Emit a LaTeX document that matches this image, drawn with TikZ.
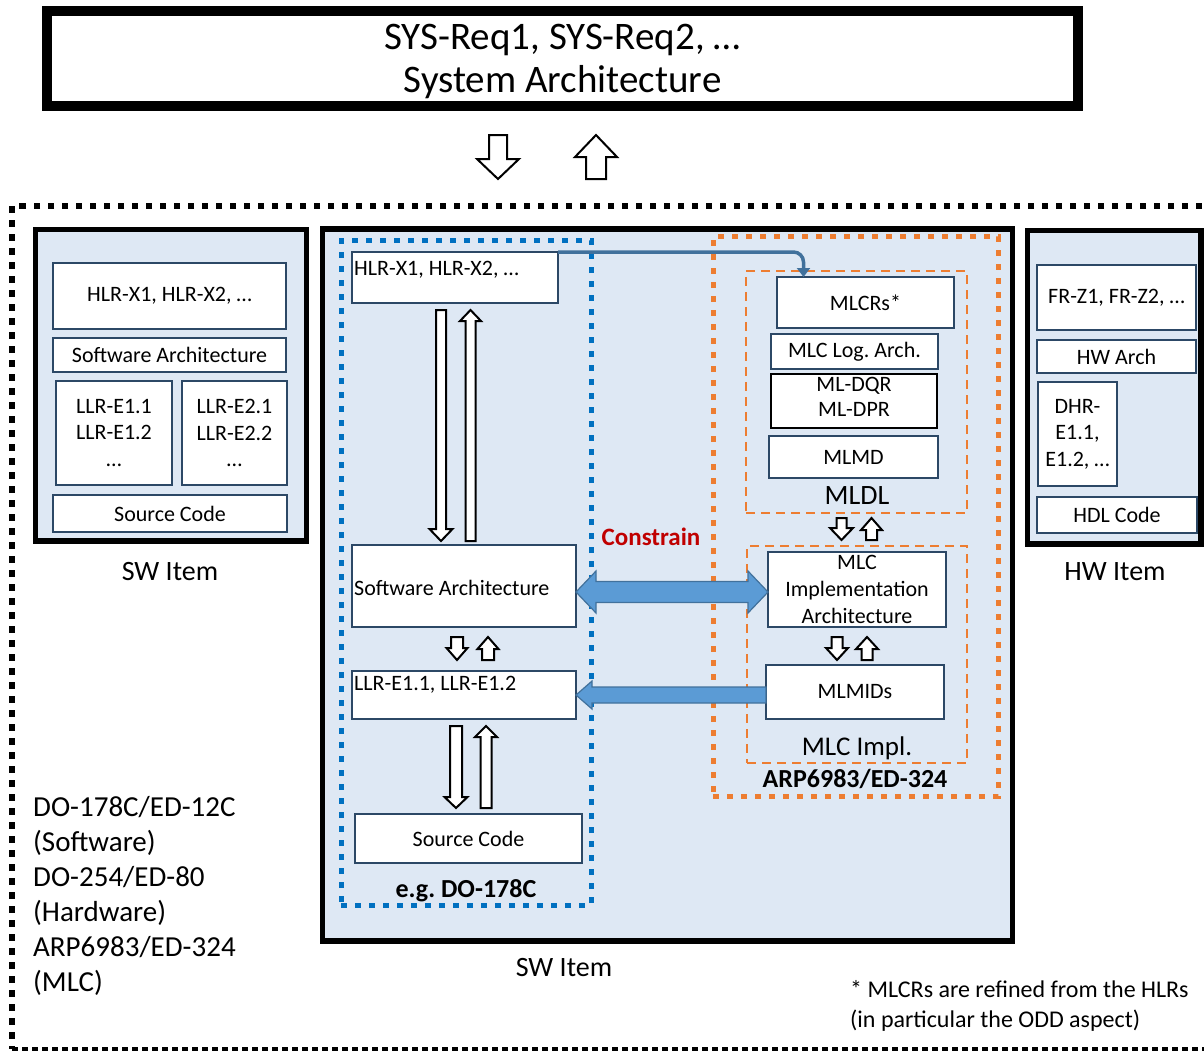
\documentclass[tikz,border=0pt]{standalone}
\usepackage{fontspec}
\setmainfont{Carlito}
\usetikzlibrary{arrows.meta,calc}

\definecolor{itembg}{RGB}{222,232,244}
\definecolor{boxedge}{RGB}{44,72,102}
\definecolor{dotblue}{RGB}{0,112,192}
\definecolor{dotorange}{RGB}{237,125,49}
\definecolor{fatfill}{RGB}{91,155,213}
\definecolor{fatedge}{RGB}{65,113,156}
\definecolor{constrainred}{RGB}{192,0,0}

\newcommand\fs[2]{\fontsize{#1}{#2}\selectfont}

% hollow block arrows: x, y top, y bottom, half shaft, half head, head length
\newcommand\hdown[6]{%
  \draw[hollowarr] ({#1-#4},#2) -- ({#1+#4},#2) -- ({#1+#4},{#3-#6}) -- ({#1+#5},{#3-#6})
    -- (#1,#3) -- ({#1-#5},{#3-#6}) -- ({#1-#4},{#3-#6}) -- cycle;}
\newcommand\hup[6]{%
  \draw[hollowarr] (#1,#2) -- ({#1+#5},{#2+#6}) -- ({#1+#4},{#2+#6}) -- ({#1+#4},#3)
    -- ({#1-#4},#3) -- ({#1-#4},{#2+#6}) -- ({#1-#5},{#2+#6}) -- cycle;}

\begin{document}
\frenchspacing
\begin{tikzpicture}[x=1pt,y=-1pt,
  span/.style n args={4}{minimum width={#3-#1}, minimum height={#4-#2},
    at={({(#1+#3)/2},{(#2+#4)/2})}, inner sep=0pt, outer sep=0pt},
  sysbox/.style={draw=black, fill=white, line width=10pt},
  itembox/.style={draw=black, fill=itembg, line width=5.5pt},
  wbox/.style={draw=boxedge, fill=white, line width=2pt, font=\fs{22}{26.5}, align=center},
  kbox/.style={draw=black, fill=white, line width=2.5pt},
  bluedots/.style={draw=dotblue, line width=5pt, dash pattern=on 6pt off 8pt},
  orangedots/.style={draw=dotorange, line width=5pt, dash pattern=on 6pt off 8pt},
  orangedash/.style={draw=dotorange, line width=2pt, dash pattern=on 9pt off 6pt},
  framedots/.style={draw=black, line width=6.5pt, dash pattern=on 6.5pt off 7.5pt},
  framedash/.style={draw=black, line width=3.5pt, dash pattern=on 6pt off 4pt},
  hollowarr/.style={draw=black, fill=white, line width=2pt, line join=miter},
  fatarr/.style={draw=fatedge, fill=fatfill, line width=1.2pt, line join=miter},
  linkline/.style={draw=fatedge, line width=3.5pt, rounded corners=10pt,
    -{Triangle[width=13pt,length=9pt]}},
  lbl/.style={inner sep=0pt, anchor=base},
  lblw/.style={inner sep=0pt, anchor=base west}]

\useasboundingbox (0,0) rectangle (1204,1052);
\fill[white] (0,0) rectangle (1204,1052);

% outer dotted frame
\draw[framedots] (1230,206) -- (12,206) -- (12,1049);
\draw[framedash] (12,1049) -- (1230,1049);

% system level
\node[sysbox, span={47}{11}{1078}{106}] (sys) {};
\node[inner sep=0pt, font=\fs{39}{43}, align=center] (systxt) at ([yshift=-3pt]sys.center)
  {SYS-Req1, SYS-Req2, …\\System Architecture};
\hdown{498}{135}{179}{9}{21}{20}
\hup{596}{135}{179}{10}{21}{22}

% left software item
\node[itembox, span={35.5}{229.5}{306.5}{541}] (lsw) {};
\node[wbox, span={53}{263}{286}{329}] (lhlr) {HLR-X1, HLR-X2, …};
\node[wbox, span={53}{338}{286}{372}] (lswa) {Software Architecture};
\node[wbox, span={56}{381}{172}{485}] (lllra) {LLR-E1.1\\LLR-E1.2\\…};
\node[wbox, span={182}{381}{287}{485}] (lllrb) {LLR-E2.1\\LLR-E2.2\\…};
\node[wbox, span={53}{495}{287}{532}] (lsrc) {Source Code};
\node[lbl, font=\fs{28}{33}] (lswlbl) at (170,580) {SW Item};

% hardware item
\node[itembox, span={1027.5}{230.5}{1201}{544}] (hw) {};
\node[wbox, span={1037}{265}{1196}{330}] (frz) {FR-Z1, FR-Z2, …};
\node[wbox, span={1037}{340}{1196}{373}] (hwa) {HW Arch};
\node[wbox, span={1038}{382}{1117}{486}] (dhr) {DHR-\\E1.1,\\E1.2, …};
\node[wbox, span={1037}{497}{1197}{533}] (hdl) {HDL Code};
\node[lbl, font=\fs{28}{33}] (hwlbl) at (1115,580) {HW Item};

% central software item
\node[itembox, span={322.5}{229}{1012.5}{941}] (csw) {};
\node[lbl, font=\fs{28}{33}] (cswlbl) at (564,976) {SW Item};

% DO-178C process
\node[bluedots, span={341}{240.5}{591}{905}] (dozone) {};
\node[wbox, span={352}{252}{558}{303}] (chlr) {};
\node[lblw, font=\fs{22}{26.5}] (chlrtxt) at ([xshift=2pt,yshift=-23pt]chlr.north west) {HLR-X1, HLR-X2, …};
\node[wbox, span={352}{545}{576}{627}] (cswa) {};
\node[lblw, font=\fs{22}{26.5}] (cswatxt) at (354,595) {Software Architecture};
\node[wbox, span={352}{671}{576}{719}] (cllr) {};
\node[lblw, font=\fs{22}{26.5}] (cllrtxt) at ([xshift=2pt,yshift=-19pt]cllr.north west) {LLR-E1.1, LLR-E1.2};
\node[wbox, span={355}{814}{582}{863}] (csrc) {Source Code};
\node[lbl, font=\bfseries\fs{26}{30}] (dolbl) at (466,897) {e.g. DO-178C};

\hdown{441}{310}{541}{5}{11.5}{12}
\hup{470.5}{310}{541}{5}{10.5}{11}
\hdown{457}{637}{660}{6}{10.5}{12}
\hup{488}{637}{660}{6}{10.5}{12}
\hdown{456}{726}{808}{6}{11.5}{11}
\hup{486}{726}{808}{5.5}{11}{11}

% ARP6983 process
\node[orangedots, span={713}{236.5}{998.5}{796}] (arpzone) {};
\node[lbl, font=\bfseries\fs{26}{30}] (arplbl) at (855,787) {ARP6983/ED-324};
\node[orangedash, span={746}{271}{967}{513}] (mldlzone) {};
\node[wbox, span={777}{277}{954}{328}] (mlcr) {MLCRs*};
\node[wbox, span={771}{334}{938}{369}] (mlla) {MLC Log. Arch.};
\node[kbox, span={771}{374}{937}{428}] (mldq) {};
\node[inner sep=0pt, font=\fs{22}{25}, align=center] (mldqtxt) at ([yshift=4pt]mldq.center) {ML-DQR\\ML-DPR};
\node[wbox, span={769}{436}{938}{478}] (mlmd) {MLMD};
\node[lbl, font=\fs{28}{33}] (mldllbl) at (857,504) {MLDL};

\node[orangedash, span={747}{546}{967}{763}] (implzone) {};
\node[wbox, span={768}{552}{946}{627}, font=\fs{22}{27}] (mlcia) {MLC\\Implementation\\Architecture};
\node[wbox, span={766}{665}{944}{719}] (mlmid) {MLMIDs};
\node[lbl, font=\fs{27}{32}] (impllbl) at (857,755) {MLC Impl.};

\hdown{841.5}{518}{540}{5}{11.5}{12}
\hup{871.5}{518}{540}{5.5}{10.5}{12}
\hdown{837}{637}{660}{5.5}{11}{12}
\hup{867}{637}{660}{5.5}{11}{12}

% refinement of HLRs into MLCRs
\draw[linkline] (chlr.north east) -| ([xshift=-62pt]mlcr.north);

% constraint between the architectures
\coordinate (bigy) at (0,592);
\draw[fatarr] (cswa.east |- bigy) -- ++(20,-21) -- ++(0,10.5)
  -- ($(mlcia.west |- bigy)+(-20,-10.5)$) -- ++(0,-10.5) -- (mlcia.west |- bigy)
  -- ++(-20,21) -- ++(0,-10.5) -- ($(cswa.east |- bigy)+(20,10.5)$) -- ++(0,10.5) -- cycle;
\node[lbl, font=\bfseries\fs{25}{30}, text=constrainred] (conlbl) at (651,545) {Constrain};

% MLMIDs feed the low level requirements
\coordinate (smally) at (0,695);
\draw[fatarr] (cllr.east |- smally) -- ++(16,-14) -- ++(0,6)
  -- ($(mlmid.west |- smally)+(0,-8)$) -- ++(0,16)
  -- ($(cllr.east |- smally)+(16,8)$) -- ++(0,6) -- cycle;

% standards list
\foreach \t [count=\i from 0] in {DO-178C/ED-12C,(Software),DO-254/ED-80,(Hardware),ARP6983/ED-324,(MLC)}
  \node[lblw, font=\fs{29}{35}] (std\i) at (33,{816+35*\i}) {\t};

% footnote
\node[lblw, font=\fs{24}{30}] (fnA) at (850,997) {* MLCRs are refined from the HLRs};
\node[lblw, font=\fs{24}{30}] (fnB) at (850,1027) {(in particular the ODD aspect)};
\end{tikzpicture}
\end{document}
